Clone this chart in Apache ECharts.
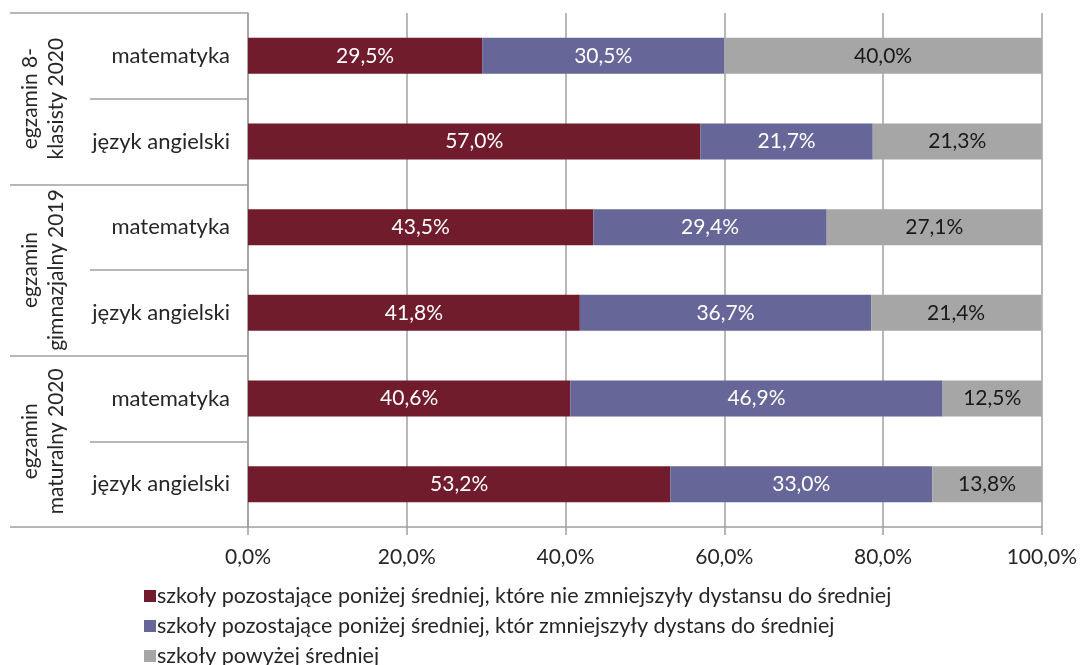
<!DOCTYPE html>
<html>
<head>
<meta charset="utf-8">
<script src="https://cdn.jsdelivr.net/npm/echarts@6/dist/echarts.min.js"></script>
<style>
  html, body { margin: 0; padding: 0; background: #fff; }
  #chart { width: 1080px; height: 665px; }
</style>
</head>
<body>
<div id="chart"></div>
<script>
// Subjects (one row each), grouped by exam
const subjects = ['matematyka', 'język angielski', 'matematyka', 'język angielski', 'matematyka', 'język angielski'];
const examGroups = ['egzamin 8-\nklasisty 2020', 'egzamin\ngimnazjalny 2019', 'egzamin\nmaturalny 2020'];

// Shares of schools (%) per row
const belowNotReduced = [29.5, 57.0, 43.5, 41.8, 40.6, 53.2];
const belowReduced    = [30.5, 21.7, 29.4, 36.7, 46.9, 33.0];
const aboveAverage    = [40.0, 21.3, 27.1, 21.4, 12.5, 13.8];

const seriesNames = [
  'szkoły pozostające poniżej średniej, które nie zmniejszyły dystansu do średniej',
  'szkoły pozostające poniżej średniej, któr zmniejszyły dystans do średniej',
  'szkoły powyżej średniej'
];

const xTicks = [0, 20, 40, 60, 80, 100];

const FONT = 'Lato';
const TEXT = '#262626';
const LINE = '#a0a0a0';

const pct = v => v.toFixed(1).replace('.', ',') + '%';

const chart = echarts.init(document.getElementById('chart'), null, { renderer: 'canvas' });

function barSeries(name, data, color, labelColor) {
  return {
    name: name,
    type: 'bar',
    stack: 'total',
    barWidth: 36,
    data: data,
    itemStyle: { color: color },
    label: {
      show: true,
      position: 'inside',
      color: labelColor,
      fontFamily: FONT,
      fontSize: 21,
      formatter: p => pct(p.value)
    }
  };
}

chart.setOption({
  animation: false,
  textStyle: { fontFamily: FONT },
  grid: { left: 248, right: 38, top: 13, bottom: 138, containLabel: false },
  legend: {
    orient: 'vertical',
    left: 139,
    top: 580,
    height: 100,
    itemWidth: 12,
    itemHeight: 12,
    itemGap: 8,
    icon: 'rect',
    textStyle: { fontFamily: FONT, fontSize: 21.5, color: TEXT, padding: [0, 0, 0, -4] },
    data: seriesNames
  },
  xAxis: {
    type: 'value',
    min: xTicks[0],
    max: xTicks[xTicks.length - 1],
    interval: 20,
    axisLine: { show: true, lineStyle: { color: LINE, width: 1.5 } },
    axisTick: { show: true, length: 8, lineStyle: { color: LINE, width: 1.5 } },
    splitLine: { show: true, lineStyle: { color: LINE, width: 1.5 } },
    axisLabel: { color: TEXT, fontSize: 21, fontFamily: FONT, margin: 20, formatter: v => pct(v) }
  },
  yAxis: [
    {
      type: 'category',
      inverse: true,
      data: subjects,
      position: 'left',
      axisLine: { show: true, lineStyle: { color: LINE, width: 1.5 } },
      axisTick: { show: true, length: 158, lineStyle: { color: LINE, width: 1.5 } },
      axisLabel: { color: TEXT, fontSize: 22, fontFamily: FONT, margin: 18, interval: 0 }
    },
    {
      type: 'category',
      inverse: true,
      data: examGroups,
      position: 'left',
      offset: 158,
      axisLine: { show: false },
      axisTick: { show: true, length: 80, lineStyle: { color: LINE, width: 1.5 } },
      axisLabel: {
        color: TEXT, fontSize: 21, fontFamily: FONT, rotate: 90, margin: 21,
        interval: 0, lineHeight: 26
      }
    }
  ],
  series: [
    barSeries(seriesNames[0], belowNotReduced, '#701c2c', '#ffffff'),
    barSeries(seriesNames[1], belowReduced, '#676699', '#ffffff'),
    barSeries(seriesNames[2], aboveAverage, '#a6a6a6', '#1a1a1a')
  ]
});
</script>
</body>
</html>
